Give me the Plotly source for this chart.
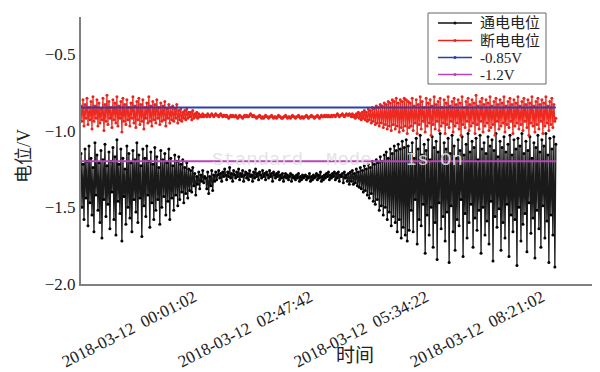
import plotly.graph_objects as go
import pandas as pd

# ---- data ----
start_time = "2018-03-11 21:18:41"
sample_seconds = 86

on_potential = [  # 通电电位 (V)
    # early, noisy
    -1.15, -1.50, -1.22, -1.58, -1.12, -1.44, -1.20, -1.62, -1.10, -1.47,
    -1.18, -1.55, -1.24, -1.66, -1.08, -1.42, -1.16, -1.52, -1.21, -1.60,
    -1.13, -1.70, -1.19, -1.45, -1.09, -1.56, -1.23, -1.48, -1.14, -1.64,
    -1.20, -1.40, -1.11, -1.58, -1.17, -1.68, -1.06, -1.46, -1.22, -1.54,
    -1.12, -1.72, -1.18, -1.43, -1.25, -1.61, -1.10, -1.50, -1.15, -1.57,
    -1.21, -1.66, -1.13, -1.45, -1.19, -1.53, -1.08, -1.60, -1.16, -1.44,
    -1.23, -1.69, -1.12, -1.49, -1.18, -1.56, -1.10, -1.42, -1.20, -1.63,
    -1.14, -1.47, -1.22, -1.58, -1.11, -1.52, -1.17, -1.45, -1.24, -1.61,
    -1.13, -1.50, -1.19, -1.43, -1.15, -1.55, -1.21, -1.46, -1.12, -1.58,
    -1.18, -1.44, -1.23, -1.52, -1.16, -1.42, -1.20, -1.49, -1.17, -1.45,
    -1.22, -1.40, -1.19, -1.47, -1.24, -1.41, -1.21, -1.44, -1.25, -1.39,
    # settling
    -1.26, -1.40, -1.24, -1.36, -1.28, -1.42, -1.30, -1.35, -1.27, -1.38,
    -1.29, -1.33, -1.26, -1.34, -1.30,
    # quiet
    -1.31, -1.38, -1.27, -1.41, -1.30, -1.36, -1.26, -1.39, -1.29, -1.33,
    -1.27, -1.32, -1.29, -1.26, -1.31, -1.28, -1.33, -1.27, -1.30, -1.25,
    -1.29, -1.32, -1.27, -1.30, -1.24, -1.31, -1.28, -1.33, -1.26, -1.29,
    -1.31, -1.27, -1.30, -1.25, -1.32, -1.28, -1.30, -1.26, -1.33, -1.29,
    -1.27, -1.31, -1.28, -1.32, -1.26, -1.30, -1.29, -1.33, -1.27, -1.31,
    -1.25, -1.30, -1.28, -1.32, -1.27, -1.29, -1.31, -1.26, -1.30, -1.28,
    -1.32, -1.27, -1.29, -1.31, -1.26, -1.30, -1.28, -1.33, -1.27, -1.29,
    -1.31, -1.28, -1.30, -1.27, -1.32, -1.29, -1.31, -1.28, -1.33, -1.30,
    -1.28, -1.31, -1.29, -1.32, -1.30, -1.28, -1.33, -1.29, -1.31, -1.30,
    -1.32, -1.29, -1.31, -1.28, -1.33, -1.30, -1.32, -1.29, -1.31, -1.30,
    -1.29, -1.32, -1.30, -1.31, -1.28, -1.33, -1.30, -1.32, -1.29, -1.31,
    -1.30, -1.28, -1.32, -1.29, -1.31, -1.27, -1.33, -1.30, -1.32, -1.29,
    -1.31, -1.28, -1.30, -1.27, -1.32, -1.29, -1.31, -1.28, -1.30, -1.27,
    -1.32, -1.28, -1.31, -1.27, -1.33, -1.29, -1.30, -1.28, -1.34, -1.27,
    -1.31, -1.29, -1.33, -1.28, -1.35,
    # rising noise
    -1.27, -1.33, -1.26, -1.35, -1.28, -1.34, -1.25, -1.36, -1.27, -1.37,
    -1.24, -1.38, -1.26, -1.40, -1.23, -1.39, -1.25, -1.42, -1.22, -1.44,
    -1.24, -1.41, -1.20, -1.46, -1.22, -1.48, -1.19, -1.45, -1.21, -1.52,
    -1.17, -1.49, -1.20, -1.55, -1.16, -1.50, -1.14, -1.58, -1.18, -1.53,
    -1.12, -1.62, -1.15, -1.56, -1.10, -1.60, -1.13, -1.66, -1.09, -1.58,
    -1.12, -1.70, -1.07, -1.63, -1.11, -1.68, -1.06, -1.72, -1.10, -1.65,
    # late, noisy
    -1.15, -1.52, -1.08, -1.66, -1.18, -1.45, -1.05, -1.74, -1.12, -1.58,
    -1.03, -1.62, -1.16, -1.48, -1.09, -1.80, -1.13, -1.55, -1.06, -1.68,
    -1.19, -1.50, -1.04, -1.76, -1.11, -1.60, -1.07, -1.84, -1.14, -1.47,
    -1.02, -1.64, -1.17, -1.56, -1.08, -1.72, -1.12, -1.53, -1.05, -1.86,
    -1.15, -1.49, -1.03, -1.66, -1.10, -1.78, -1.18, -1.58, -1.06, -1.62,
    -1.13, -1.45, -1.04, -1.82, -1.16, -1.54, -1.09, -1.70, -1.02, -1.60,
    -1.14, -1.48, -1.07, -1.76, -1.11, -1.57, -1.05, -1.65, -1.19, -1.52,
    -1.03, -1.80, -1.12, -1.50, -1.08, -1.68, -1.15, -1.59, -1.04, -1.74,
    -1.10, -1.46, -1.06, -1.85, -1.13, -1.56, -1.02, -1.63, -1.17, -1.51,
    -1.07, -1.78, -1.11, -1.60, -1.04, -1.70, -1.14, -1.48, -1.09, -1.82,
    -1.03, -1.55, -1.16, -1.66, -1.06, -1.58, -1.12, -1.88, -1.05, -1.50,
    -1.10, -1.72, -1.02, -1.61, -1.15, -1.54, -1.07, -1.79, -1.13, -1.47,
    -1.04, -1.67, -1.18, -1.57, -1.08, -1.83, -1.11, -1.52, -1.03, -1.64,
    -1.14, -1.76, -1.06, -1.49, -1.10, -1.70, -1.02, -1.59, -1.16, -1.86,
    -1.05, -1.55, -1.12, -1.68, -1.04, -1.89, -1.09,
]

off_potential = [  # 断电电位 (V)
    # early, noisy
    -0.84, -0.94, -0.80, -0.97, -0.83, -0.92, -0.79, -0.96, -0.85, -0.93,
    -0.81, -0.99, -0.78, -0.94, -0.84, -0.92, -0.80, -0.97, -0.82, -0.95,
    -0.86, -0.93, -0.79, -1.00, -0.83, -0.94, -0.77, -0.96, -0.81, -0.92,
    -0.85, -0.98, -0.80, -0.93, -0.82, -0.95, -0.78, -0.97, -0.84, -0.92,
    -0.81, -1.01, -0.79, -0.94, -0.83, -0.96, -0.80, -0.93, -0.85, -0.97,
    -0.82, -0.92, -0.78, -0.95, -0.84, -0.98, -0.81, -0.93, -0.79, -0.96,
    -0.83, -0.94, -0.80, -0.99, -0.85, -0.92, -0.82, -0.95, -0.78, -0.94,
    -0.84, -0.97, -0.81, -0.93, -0.83, -0.95, -0.80, -0.92, -0.85, -0.96,
    -0.82, -0.94, -0.84, -0.93, -0.81, -0.97, -0.86, -0.92, -0.83, -0.95,
    -0.85, -0.93, -0.84, -0.94, -0.86, -0.92, -0.83, -0.95, -0.87, -0.93,
    -0.86, -0.94, -0.88, -0.92, -0.87, -0.93, -0.86, -0.92, -0.88, -0.91,
    # settling
    -0.88, -0.93, -0.87, -0.92, -0.89, -0.91, -0.88, -0.92, -0.89, -0.91,
    -0.90, -0.91, -0.89, -0.91, -0.90,
    # quiet
    -0.90, -0.91, -0.89, -0.90, -0.91, -0.90, -0.89, -0.90, -0.91, -0.90,
    -0.89, -0.90, -0.90, -0.91, -0.90, -0.89, -0.90, -0.91, -0.90, -0.90,
    -0.91, -0.90, -0.91, -0.92, -0.91, -0.90, -0.91, -0.90, -0.91, -0.91,
    -0.90, -0.91, -0.92, -0.91, -0.90, -0.91, -0.91, -0.92, -0.91, -0.90,
    -0.91, -0.90, -0.91, -0.91, -0.90, -0.89, -0.90, -0.91, -0.90, -0.91,
    -0.91, -0.92, -0.91, -0.91, -0.90, -0.91, -0.92, -0.91, -0.92, -0.91,
    -0.90, -0.91, -0.91, -0.92, -0.91, -0.91, -0.90, -0.91, -0.92, -0.91,
    -0.91, -0.92, -0.91, -0.90, -0.91, -0.91, -0.92, -0.92, -0.91, -0.91,
    -0.90, -0.91, -0.92, -0.91, -0.91, -0.92, -0.91, -0.90, -0.91, -0.91,
    -0.92, -0.91, -0.91, -0.90, -0.91, -0.92, -0.91, -0.91, -0.92, -0.91,
    -0.91, -0.90, -0.91, -0.92, -0.91, -0.91, -0.90, -0.91, -0.91, -0.92,
    -0.91, -0.91, -0.90, -0.91, -0.92, -0.91, -0.90, -0.91, -0.91, -0.90,
    -0.91, -0.90, -0.91, -0.90, -0.91, -0.91, -0.90, -0.91, -0.90, -0.90,
    -0.91, -0.90, -0.89, -0.90, -0.91, -0.90, -0.90, -0.89, -0.90, -0.91,
    -0.90, -0.89, -0.90, -0.90, -0.89,
    # rising noise
    -0.90, -0.91, -0.89, -0.91, -0.90, -0.92, -0.89, -0.91, -0.88, -0.92,
    -0.89, -0.93, -0.88, -0.92, -0.87, -0.93, -0.88, -0.94, -0.86, -0.93,
    -0.87, -0.95, -0.85, -0.94, -0.86, -0.96, -0.84, -0.95, -0.85, -0.97,
    -0.83, -0.95, -0.84, -0.98, -0.82, -0.96, -0.83, -0.99, -0.81, -0.97,
    -0.82, -1.00, -0.80, -0.96, -0.81, -0.99, -0.79, -0.97, -0.82, -1.01,
    -0.80, -0.98, -0.81, -1.00, -0.79, -0.97, -0.80, -1.02, -0.81, -0.98,
    # late, noisy
    -0.82, -0.97, -0.79, -1.00, -0.84, -0.95, -0.80, -1.02, -0.83, -0.96,
    -0.78, -0.99, -0.81, -0.94, -0.85, -1.01, -0.79, -0.97, -0.82, -0.95,
    -0.80, -1.03, -0.84, -0.96, -0.78, -0.99, -0.83, -0.94, -0.81, -1.00,
    -0.79, -0.97, -0.85, -0.95, -0.80, -1.02, -0.82, -0.96, -0.78, -0.98,
    -0.84, -0.94, -0.81, -1.01, -0.79, -0.97, -0.83, -0.95, -0.80, -0.99,
    -0.82, -1.03, -0.78, -0.96, -0.85, -0.98, -0.81, -0.94, -0.79, -1.00,
    -0.83, -0.97, -0.80, -0.95, -0.82, -1.02, -0.77, -0.96, -0.84, -0.99,
    -0.81, -0.94, -0.79, -1.01, -0.83, -0.97, -0.80, -0.95, -0.82, -1.00,
    -0.78, -0.98, -0.84, -0.96, -0.81, -1.03, -0.79, -0.94, -0.83, -0.99,
    -0.80, -0.97, -0.82, -0.95, -0.78, -1.01, -0.84, -0.96, -0.81, -0.98,
    -0.79, -0.94, -0.83, -1.02, -0.80, -0.97, -0.82, -0.95, -0.78, -0.99,
    -0.84, -0.96, -0.81, -1.00, -0.79, -0.94, -0.83, -0.98, -0.80, -1.03,
    -0.82, -0.95, -0.78, -0.97, -0.84, -1.01, -0.81, -0.96, -0.79, -0.99,
    -0.83, -0.94, -0.80, -1.02, -0.82, -0.97, -0.78, -0.95, -0.84, -1.00,
    -0.81, -0.96, -0.79, -0.98, -0.83, -0.94, -0.92,
]

level_085 = -0.85
level_12 = -1.2

series_names = ["通电电位", "断电电位", "-0.85V", "-1.2V"]
series_colors = ["#111111", "#e8241c", "#2b3fb0", "#b844b8"]
tick_vals = ["2018-03-12 00:01:02", "2018-03-12 02:47:42",
             "2018-03-12 05:34:22", "2018-03-12 08:21:02"]
tick_text = ["2018-03-12  00:01:02", "2018-03-12  02:47:42",
             "2018-03-12  05:34:22", "2018-03-12  08:21:02"]
x_range = ["2018-03-11 21:18:41", "2018-03-12 09:37:11"]
y_range = [-2.0, -0.26]
y_ticks = [-2.0, -1.5, -1.0, -0.5]
y_ticktext = ["\u22122.0", "\u22121.5", "\u22121.0", "\u22120.5"]

times = pd.date_range(start_time, periods=len(on_potential), freq=f"{sample_seconds}s")

serif = "Liberation Serif, Times New Roman, Noto Sans CJK SC"

# page body has an 8px margin: shift the figure so the plot lands where the reference has it
OFF = 8
PL, PR, PT, PB = 81, 595, 17, 284          # plot box in window pixels
PW, PH = PR - PL, PB - PT


def px(x):
    return (x - PL) / PW


def py(y):
    return (PB - y) / PH


fig = go.Figure()
fig.add_trace(go.Scatter(
    x=times, y=on_potential, name=series_names[0], mode="lines+markers",
    line=dict(color="#1a1a1a", width=1.3, simplify=False),
    marker=dict(color="black", size=3)))
fig.add_trace(go.Scatter(
    x=times, y=off_potential, name=series_names[1], mode="lines+markers",
    line=dict(color="#ee2a20", width=1.2, simplify=False),
    marker=dict(color=series_colors[1], size=3)))
fig.add_trace(go.Scatter(
    x=times, y=[level_085] * len(times), name=series_names[2], mode="lines",
    line=dict(color=series_colors[2], width=2)))
fig.add_trace(go.Scatter(
    x=times, y=[level_12] * len(times), name=series_names[3], mode="lines",
    line=dict(color=series_colors[3], width=2)))

fig.update_layout(
    width=600, height=372,
    margin=dict(l=PL - OFF, r=600 - (PR - OFF), t=PT - OFF, b=372 - (PB - OFF)),
    paper_bgcolor="white", plot_bgcolor="white",
    showlegend=False,
    font=dict(family=serif, color="#222"),
)
fig.update_xaxes(
    range=x_range, tickvals=tick_vals, ticktext=tick_text, tickangle=-27,
    showline=True, linecolor="#808080", linewidth=2, showgrid=False,
    zeroline=False, ticks="", automargin=False, ticklabelstandoff=-5,
    tickfont=dict(family=serif, size=17, color="#222"))
fig.update_yaxes(
    range=y_range, tickvals=y_ticks, ticktext=y_ticktext,
    showline=True, linecolor="#808080", linewidth=2, showgrid=False,
    zeroline=False, ticks="", automargin=False,
    tickfont=dict(family=serif, size=17, color="#222"))

# axis titles
fig.add_annotation(text="电位/V", xref="paper", yref="paper",
                   x=px(24), y=py(156), textangle=-90,
                   xanchor="center", yanchor="middle",
                   showarrow=False, font=dict(family=serif, size=18, color="#222"))
fig.add_annotation(text="时间", xref="paper", yref="paper",
                   x=px(355), y=py(355), xanchor="center", yanchor="middle",
                   showarrow=False, font=dict(family=serif, size=19, color="#222"))
# faint watermark text visible in the reference
fig.add_annotation(text="Standard  Mode   Is On", xref="paper", yref="paper",
                   x=px(337), y=py(160), xanchor="center", yanchor="middle",
                   showarrow=False,
                   font=dict(family="Liberation Mono, Courier New, monospace", size=19,
                             color="rgba(225,225,225,0.9)"))

# legend box (drawn to match the reference's compact legend)
fig.add_shape(type="rect", xref="paper", yref="paper",
              x0=px(428), x1=px(546), y0=py(84), y1=py(13),
              line=dict(color="#666666", width=1), fillcolor="white", layer="above")
legend_rows = [23, 40.5, 57.5, 74.5]
for name, color, ry in zip(series_names, series_colors, legend_rows):
    fig.add_shape(type="line", xref="paper", yref="paper",
                  x0=px(438), x1=px(472), y0=py(ry), y1=py(ry),
                  line=dict(color=color, width=1.3), layer="above")
    fig.add_shape(type="circle", xref="paper", yref="paper",
                  x0=px(453.5), x1=px(456.5), y0=py(ry + 1.5), y1=py(ry - 1.5),
                  line=dict(color=color, width=0), fillcolor=color, layer="above")
    fig.add_annotation(text=name, xref="paper", yref="paper",
                       x=px(478), y=py(ry), xanchor="left", yanchor="middle",
                       showarrow=False, font=dict(family=serif, size=15, color="#222"))

fig.write_html("out.html")
